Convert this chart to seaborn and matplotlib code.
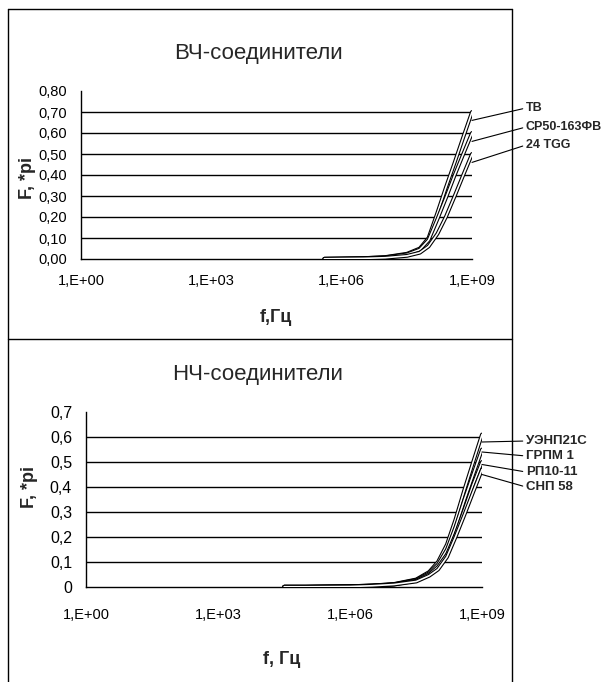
import numpy as np
import pandas as pd
import matplotlib
matplotlib.use("Agg")
import matplotlib.pyplot as plt
import matplotlib.patheffects as pe
from matplotlib.lines import Line2D
from matplotlib.ticker import FixedLocator, FixedFormatter, NullLocator
import seaborn as sns

# ---------------- data ----------------
hf_freq = [4e5, 1e6, 3.2e6, 1e7, 3.2e7, 6.3e7, 1e8, 1.6e8, 2.5e8, 4e8, 6.3e8, 1e9]
hf_series = ["TB", "CP50-163ФВ", "24 TGG"]
hf_TB = [0.001, 0.002, 0.004, 0.009, 0.025, 0.05, 0.10, 0.22, 0.34, 0.46, 0.58, 0.70]
hf_CP = [0.001, 0.002, 0.004, 0.008, 0.022, 0.045, 0.09, 0.19, 0.29, 0.40, 0.50, 0.60]
hf_TGG = [0.001, 0.002, 0.003, 0.006, 0.015, 0.03, 0.06, 0.12, 0.20, 0.30, 0.40, 0.50]

lf_freq = [3.2e4, 1e5, 1e6, 3.2e6, 1e7, 3.2e7, 6.3e7, 1e8, 1.6e8, 2.5e8, 4e8, 6.3e8, 1e9]
lf_series = ["УЭНП21С", "ГРПМ 1", "РП10-11", "СНП 58"]
lf_UENP = [0.001, 0.001, 0.003, 0.006, 0.012, 0.03, 0.06, 0.10, 0.17, 0.27, 0.39, 0.50, 0.61]
lf_GRPM = [0.001, 0.001, 0.003, 0.006, 0.011, 0.028, 0.055, 0.09, 0.15, 0.24, 0.35, 0.45, 0.55]
lf_RP = [0.001, 0.001, 0.003, 0.005, 0.010, 0.025, 0.05, 0.08, 0.13, 0.21, 0.31, 0.41, 0.50]
lf_SNP = [0.001, 0.001, 0.002, 0.005, 0.010, 0.022, 0.045, 0.07, 0.12, 0.20, 0.29, 0.38, 0.47]

x_ticks = [1, 1e3, 1e6, 1e9]
x_ticklabels = ["1,E+00", "1,E+03", "1,E+06", "1,E+09"]
hf_yticks = [0.0, 0.1, 0.2, 0.3, 0.4, 0.5, 0.6, 0.7, 0.8]
hf_yticklabels = ["0,00", "0,10", "0,20", "0,30", "0,40", "0,50", "0,60", "0,70", "0,80"]
lf_yticks = [0.0, 0.1, 0.2, 0.3, 0.4, 0.5, 0.6, 0.7]
lf_yticklabels = ["0", "0,1", "0,2", "0,3", "0,4", "0,5", "0,6", "0,7"]

hf_title = "ВЧ-соединители"
lf_title = "НЧ-соединители"

# ---------------- figure ----------------
sns.set_style("white")
plt.rcParams["font.family"] = ["Liberation Sans", "DejaVu Sans"]

W, H = 605, 682
fig = plt.figure(figsize=(W / 100, H / 100), dpi=100)


def fx(px):
    return px / W


def fy(py):
    return 1 - py / H


def make_axes(left, top, right, bottom):
    return fig.add_axes([fx(left), fy(bottom), fx(right) - fx(left), fy(top) - fy(bottom)])


ax1 = make_axes(81, 91, 472, 259)
ax2 = make_axes(86, 412, 482, 587)

peff = [pe.Stroke(linewidth=2.8, foreground="black"), pe.Normal()]


def draw(ax, freq, names, values, yticks, yticklabels, ymax, ylabsize, xpad):
    rows = []
    for n, v in zip(names, values):
        for f, y in zip(freq, v):
            rows.append({"f": f, "F": y, "series": n})
    df = pd.DataFrame(rows)
    ax.set_xscale("log")
    sns.lineplot(data=df, x="f", y="F", hue="series", palette=["white"] * len(names),
                 legend=False, ax=ax, linewidth=1.2, path_effects=peff, sort=False,
                 zorder=3)
    ax.set_xlim(1, 1e9)
    ax.set_ylim(0, ymax)
    ax.xaxis.set_major_locator(FixedLocator(x_ticks))
    ax.xaxis.set_major_formatter(FixedFormatter(x_ticklabels))
    ax.xaxis.set_minor_locator(NullLocator())
    ax.set_yticks(yticks)
    ax.set_yticklabels(yticklabels)
    for yv in yticks[1:]:
        if yv < ymax - 1e-9:
            ax.axhline(yv, color="black", lw=1.0, zorder=1)
    for s in ["top", "right"]:
        ax.spines[s].set_visible(False)
    for s in ["left", "bottom"]:
        ax.spines[s].set_color("black")
        ax.spines[s].set_linewidth(1.0)
    ax.tick_params(axis="both", direction="out", length=5, width=1, colors="black",
                   labelsize=10.5, pad=5)
    ax.tick_params(axis="y", labelsize=ylabsize)
    ax.tick_params(axis="x", pad=xpad)
    ax.set_xlabel("")
    ax.set_ylabel("")
    ax.set_facecolor("white")


draw(ax1, hf_freq, hf_series, [hf_TB, hf_CP, hf_TGG], hf_yticks, hf_yticklabels, 0.8, 10.5, 6)
draw(ax2, lf_freq, lf_series, [lf_UENP, lf_GRPM, lf_RP, lf_SNP], lf_yticks, lf_yticklabels,
     0.7, 11.5, 10)

# titles and axis labels
fig.text(fx(258), fy(53), hf_title, ha="center", va="center", fontsize=16)
fig.text(fx(258), fy(375), lf_title, ha="center", va="center", fontsize=16)
fig.text(fx(276), fy(318), "f,Гц", ha="center", va="center", fontsize=13, fontweight="bold")
fig.text(fx(282), fy(660), "f, Гц", ha="center", va="center", fontsize=13, fontweight="bold")
fig.text(fx(27), fy(178), "F, *pi", ha="center", va="center", rotation=90, fontsize=13,
         fontweight="bold")
fig.text(fx(29), fy(487), "F, *pi", ha="center", va="center", rotation=90, fontsize=13,
         fontweight="bold")

# data labels with leader lines
hf_label_y = [108, 127, 145]
hf_end = [0.66, 0.56, 0.46]
for name, yv, ly in zip(hf_series, hf_end, hf_label_y):
    ax1.annotate(name, xy=(1e9, yv), xycoords="data",
                 xytext=(fx(526), fy(ly)), textcoords="figure fraction",
                 ha="left", va="center", fontsize=9, fontweight="bold",
                 arrowprops=dict(arrowstyle="-", color="black", lw=0.8,
                                 shrinkA=0, shrinkB=0, relpos=(0, 0.5)),
                 annotation_clip=False)

lf_label_y = [441, 456, 472, 487]
lf_end = [0.58, 0.54, 0.49, 0.45]
for name, yv, ly in zip(lf_series, lf_end, lf_label_y):
    ax2.annotate(name, xy=(1e9, yv), xycoords="data",
                 xytext=(fx(526), fy(ly)), textcoords="figure fraction",
                 ha="left", va="center", fontsize=9.5, fontweight="bold",
                 arrowprops=dict(arrowstyle="-", color="black", lw=0.8,
                                 shrinkA=0, shrinkB=0, relpos=(0, 0.5)),
                 annotation_clip=False)

# chart borders
def fline(x0, y0, x1, y1):
    fig.add_artist(Line2D([fx(x0), fx(x1)], [fy(y0), fy(y1)], color="black", lw=1.0))

fline(8, 9, 512, 9)
fline(8, 9, 8, 682)
fline(512, 9, 512, 682)
fline(8, 339, 512, 339)

fig.savefig("out.png", dpi=100, facecolor="white")
